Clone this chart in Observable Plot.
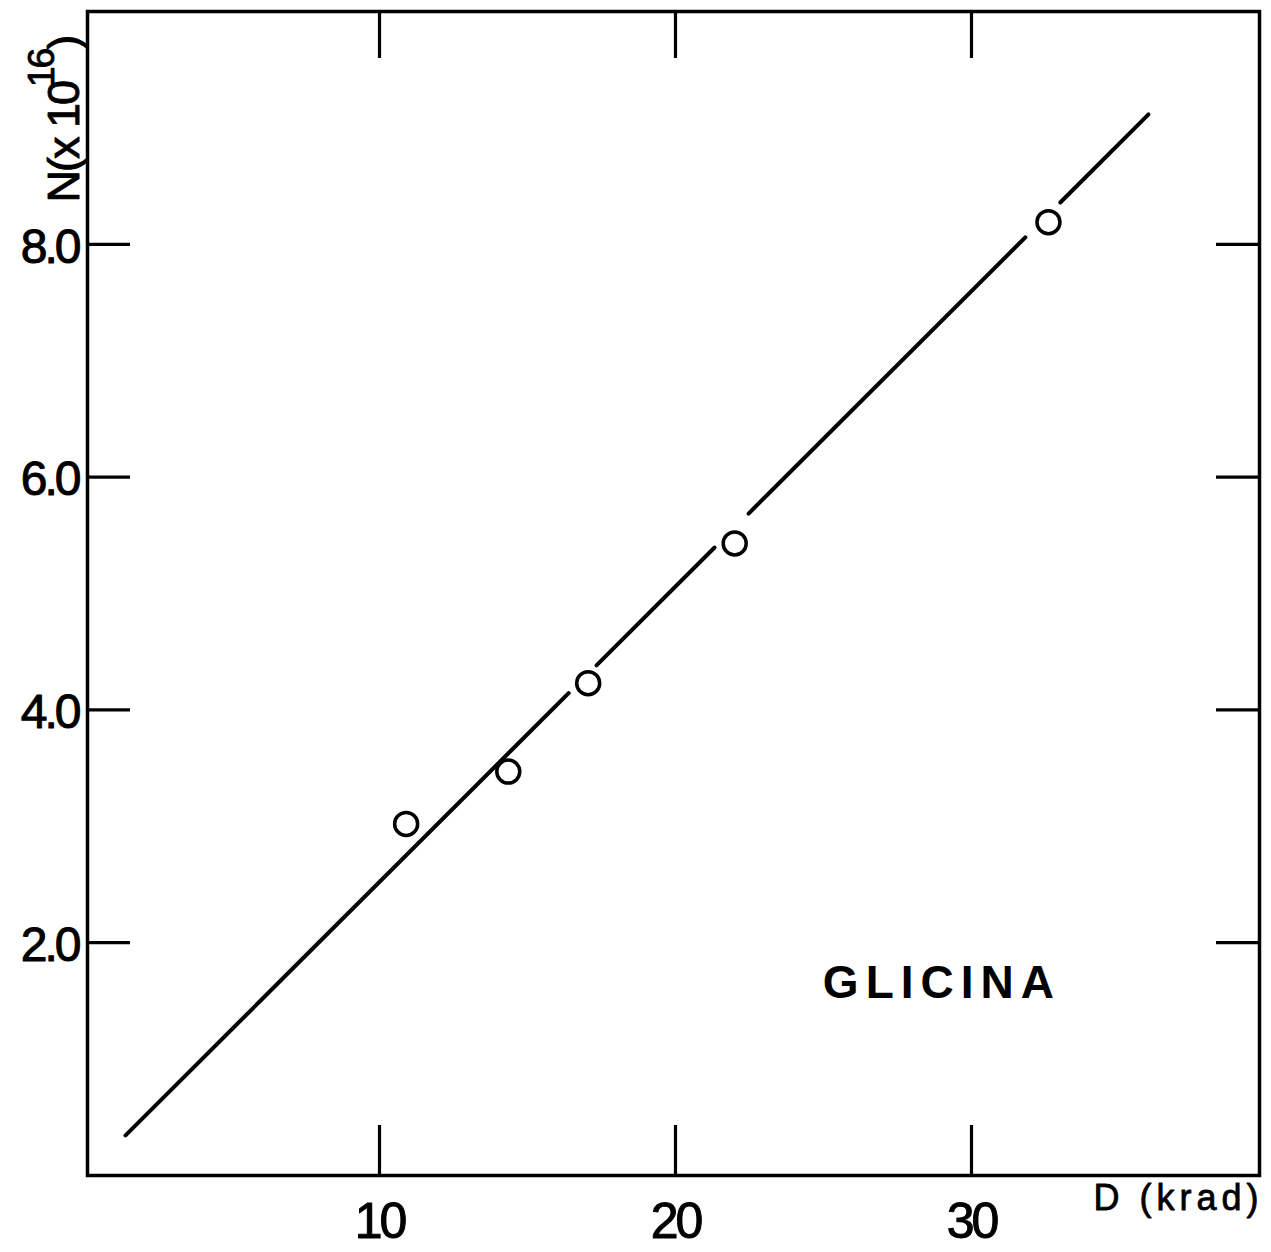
<!DOCTYPE html>
<html>
<head>
<meta charset="utf-8">
<script src="https://cdn.jsdelivr.net/npm/d3@7"></script>
<script src="https://cdn.jsdelivr.net/npm/@observablehq/plot@0.6"></script>
<style>
  html, body { margin: 0; padding: 0; background: #ffffff; }
  #chart svg { display: block; }
</style>
</head>
<body>
<div id="chart"></div>
<script>
// Radical yield of irradiated glycine versus absorbed dose
const dose = [10.9, 14.35, 17.05, 22.0, 32.6];      // D (krad)
const spins = [3.02, 3.47, 4.23, 5.43, 8.19];       // N (x 10^16)

// Least-squares line N = fitIntercept + fitSlope * D
const fitSlope = 0.2538;
const fitIntercept = -0.016;
const fitExtent = [1.42, 35.98];
// Stretches of the line left open around the circled points
const fitGaps = [[16.39, 17.33], [21.32, 22.47], [31.82, 33.0]];

const xTicks = [10, 20, 30];
const xTickLabels = ["10", "20", "30"];
const yTicks = [2, 4, 6, 8];
const yTickLabels = ["2.0", "4.0", "6.0", "8.0"];

const xLabel = "D (krad)";
const yLabelBase = "N(x 10";
const yLabelExp = "16";
const sampleName = "GLICINA";
const sampleAt = {x: 29.0, y: 1.65};

// Build the visible pieces of the fit line
const breaks = [fitExtent[0], ...fitGaps.flat(), fitExtent[1]];
const fitPieces = [];
for (let i = 0; i < breaks.length; i += 2) {
  for (const d of [breaks[i], breaks[i + 1]]) {
    fitPieces.push({piece: i / 2, d, n: fitIntercept + fitSlope * d});
  }
}
const points = dose.map((d, i) => ({d, n: spins[i]}));

const W = 1271, H = 1252;
const mL = 87, mR = 12, mT = 11, mB = 77;
const frameW = W - mL - mR, frameH = H - mT - mB;

const svg = Plot.plot({
  width: W,
  height: H,
  marginLeft: mL,
  marginRight: mR,
  marginTop: mT,
  marginBottom: mB,
  style: {fontFamily: "'Liberation Sans', Arial, sans-serif", background: "#ffffff", color: "#000", overflow: "visible"},
  x: {domain: [0.135, 39.73], axis: null},
  y: {domain: [0, 10], axis: null},
  marks: [
    // inward ticks on all four sides
    Plot.tickX(xTicks, {x: d => d, insetTop: frameH - 50, stroke: "#000", strokeWidth: 3.2}),
    Plot.tickX(xTicks, {x: d => d, insetBottom: frameH - 47, stroke: "#000", strokeWidth: 3.2}),
    Plot.tickY(yTicks, {y: d => d, insetRight: frameW - 43, stroke: "#000", strokeWidth: 3.2}),
    Plot.tickY(yTicks, {y: d => d, insetLeft: frameW - 43, stroke: "#000", strokeWidth: 3.2}),
    Plot.frame({stroke: "#000", strokeWidth: 3.5}),
    // tick labels
    Plot.text(xTicks, {x: d => d, text: (d, i) => xTickLabels[i], frameAnchor: "bottom", dy: 46,
      lineAnchor: "middle", fontSize: 50, fill: "#000", stroke: "#000", strokeWidth: 1}),
    Plot.text(yTicks, {y: d => d, text: (d, i) => yTickLabels[i], frameAnchor: "left", dx: -9, dy: 3,
      textAnchor: "end", lineAnchor: "middle", fontSize: 48, fill: "#000", stroke: "#000", strokeWidth: 1}),
    // axis titles
    Plot.text([xLabel], {text: d => d, frameAnchor: "bottom-right", dx: 4, dy: 34,
      textAnchor: "end", lineAnchor: "bottom", fontSize: 36,
      fill: "#000", stroke: "#000", strokeWidth: 0.8}),
    Plot.text([yLabelBase], {text: d => d, frameAnchor: "top-left", dx: -9, dy: 191, rotate: -90,
      textAnchor: "start", lineAnchor: "bottom", fontSize: 45, fill: "#000", stroke: "#000", strokeWidth: 0.9}),
    // fit line and measured points
    Plot.line(fitPieces, {x: "d", y: "n", z: "piece", stroke: "#000", strokeWidth: 4, strokeLinecap: "round"}),
    Plot.dot(points, {x: "d", y: "n", r: 11.5, stroke: "#000", strokeWidth: 3.5, fill: "#fff"}),
    // sample name
    Plot.text([sampleAt], {x: "x", y: "y", text: () => sampleName, textAnchor: "middle", lineAnchor: "middle",
      fontSize: 46, fontWeight: "bold", fill: "#000"})
  ]
});

// Typographic touches: letter spacing and the exponent of the y title
const texts = d3.select(svg).selectAll("text");
texts.filter(function() { return this.textContent === sampleName; })
  .style("letter-spacing", "7px");
texts.filter(function() { return this.textContent === xLabel; })
  .style("letter-spacing", "5px");
texts.filter(function() { return ["10", "20", "30", "2.0", "4.0", "6.0", "8.0"].includes(this.textContent); })
  .style("letter-spacing", "-3px");
texts.filter(function() { return this.textContent === yLabelBase; })
  .style("letter-spacing", "-2px")
  .each(function() {
    const t = d3.select(this);
    t.append("tspan").attr("dy", -25).attr("dx", -5).attr("font-size", 37).text(yLabelExp);
    t.append("tspan").attr("dy", 25).attr("dx", 0).text(")");
  });

document.getElementById("chart").appendChild(svg);
</script>
</body>
</html>
